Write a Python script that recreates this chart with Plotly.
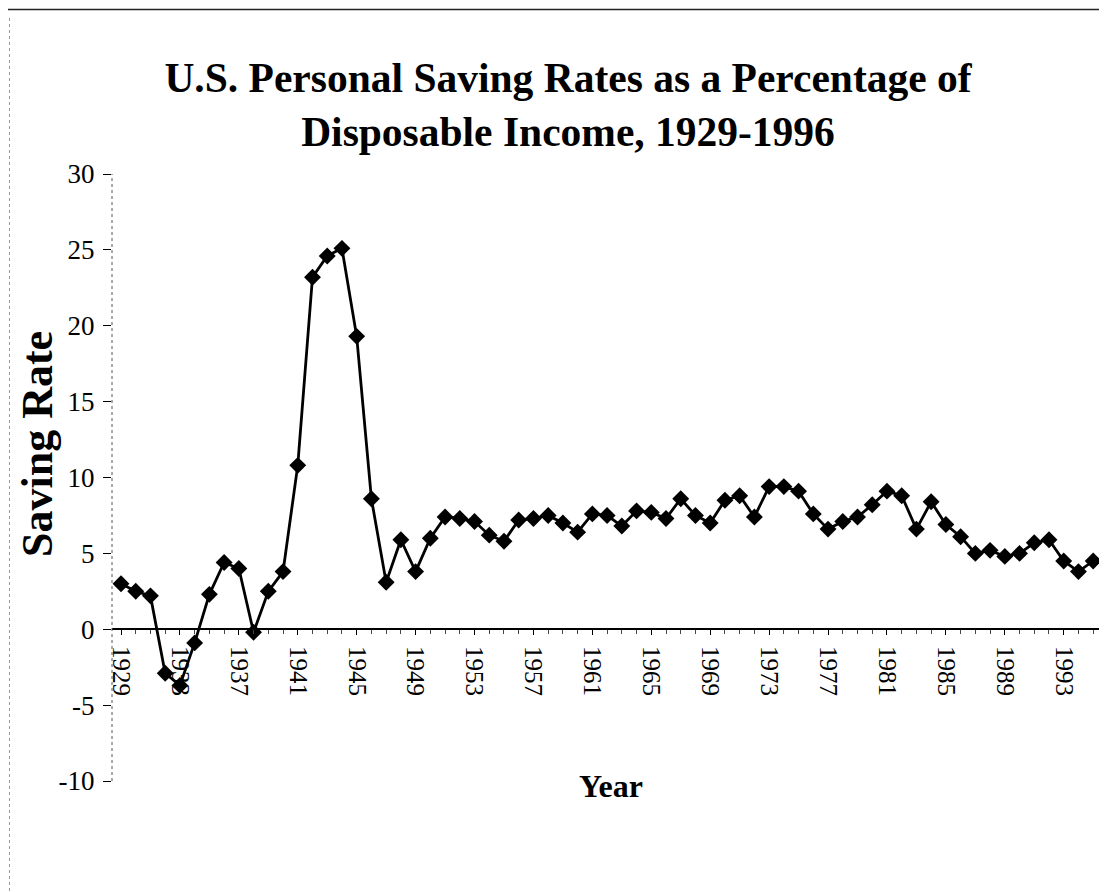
import plotly.graph_objects as go

years = list(range(1929, 1997))
saving_rate = [
    3.0, 2.5, 2.2, -2.9, -3.7, -0.9, 2.3, 4.4, 4.0, -0.2, 2.5, 3.8,
    10.8, 23.2, 24.6, 25.1, 19.3, 8.6, 3.1, 5.9, 3.8, 6.0,
    7.4, 7.3, 7.1, 6.2, 5.8, 7.2, 7.3, 7.5, 7.0, 6.4,
    7.6, 7.5, 6.8, 7.8, 7.7, 7.3, 8.6, 7.5, 7.0, 8.5,
    8.8, 7.4, 9.4, 9.4, 9.1, 7.6, 6.6, 7.1, 7.4, 8.2,
    9.1, 8.8, 6.6, 8.4, 6.9, 6.1, 5.0, 5.2, 4.8, 5.0,
    5.7, 5.9, 4.5, 3.8, 4.5, 4.7,
]
y_ticks = [30, 25, 20, 15, 10, 5, 0, -5, -10]
x_tick_years = list(range(1929, 1997, 4))

title_text = "U.S. Personal Saving Rates as a Percentage of<br>Disposable Income, 1929-1996"
x_title = "Year"
y_title = "Saving Rate"

W, H = 1107, 892
ml, mr, mt, mb = 104, 0, 166, 119
pw, ph = W - ml - mr, H - mt - mb

def px(xp):
    return (xp - ml) / pw

def py(yp):
    return (H - mb - yp) / ph

serif = "Liberation Serif, Times New Roman, serif"

fig = go.Figure()
fig.add_trace(go.Scatter(
    x=years, y=saving_rate, mode="lines+markers",
    line=dict(color="black", width=2.8),
    marker=dict(symbol="diamond", size=13, color="black"),
    cliponaxis=False, showlegend=False,
))

ymin, ymax = -10, 30
zero_pos = (0 - ymin) / (ymax - ymin)
x_lo = 1929 - 9 / 14.73
x_hi = x_lo + pw / 14.73

fig.update_layout(
    width=W, height=H,
    margin=dict(l=ml, r=mr, t=mt, b=mb),
    paper_bgcolor="white", plot_bgcolor="white",
    title=dict(text=title_text, x=560 / W, xref="container", xanchor="center",
               y=1 - 84 / H, yref="container", yanchor="middle",
               font=dict(family=serif, size=41.5, color="black", weight="bold")),
    xaxis=dict(
        range=[x_lo, x_hi], anchor="free", position=zero_pos,
        tickmode="array", tickvals=x_tick_years, ticktext=[str(v) for v in x_tick_years],
        tickangle=90, ticks="outside", ticklen=5, tickcolor="black", tickwidth=1,
        ticklabelstandoff=6,
        minor=dict(dtick=1, tick0=1929, ticks="outside", ticklen=4, tickcolor="#444", tickwidth=1),
        showline=True, linecolor="black", linewidth=1.5,
        showgrid=False, zeroline=False,
        tickfont=dict(family=serif, size=25, color="black"),
    ),
    yaxis=dict(
        range=[ymin, ymax], tickmode="array", tickvals=y_ticks,
        ticktext=[str(v) for v in y_ticks],
        ticks="outside", ticklen=8, tickcolor="black", tickwidth=1,
        ticklabelstandoff=3,
        showline=False, showgrid=False, zeroline=False,
        tickfont=dict(family=serif, size=27, color="black"),
    ),
    annotations=[
        dict(text=f"<b>{x_title}</b>", x=px(603), y=py(778), xref="paper", yref="paper",
             showarrow=False, xanchor="center", yanchor="middle",
             font=dict(family=serif, size=32, color="black")),
        dict(text=f"<b>{y_title}</b>", x=px(29), y=py(436), xref="paper", yref="paper",
             showarrow=False, xanchor="center", yanchor="middle", textangle=-90,
             font=dict(family=serif, size=44, color="black")),
    ],
    shapes=[
        dict(type="line", xref="paper", yref="paper", x0=0, x1=0, y0=0, y1=1,
             line=dict(color="#555", width=1, dash="dot")),
        dict(type="line", xref="paper", yref="paper", x0=px(0), x1=px(W), y0=py(1.5), y1=py(1.5),
             line=dict(color="#222", width=1.5)),
        dict(type="line", xref="paper", yref="paper", x0=px(1.5), x1=px(1.5), y0=py(10), y1=py(H),
             line=dict(color="#999", width=1, dash="dot")),
        dict(type="line", xref="paper", yref="paper", x0=px(1104), x1=px(1104), y0=py(845), y1=py(H),
             line=dict(color="#777", width=1, dash="dot")),
    ],
)

fig.write_html("out.html")
